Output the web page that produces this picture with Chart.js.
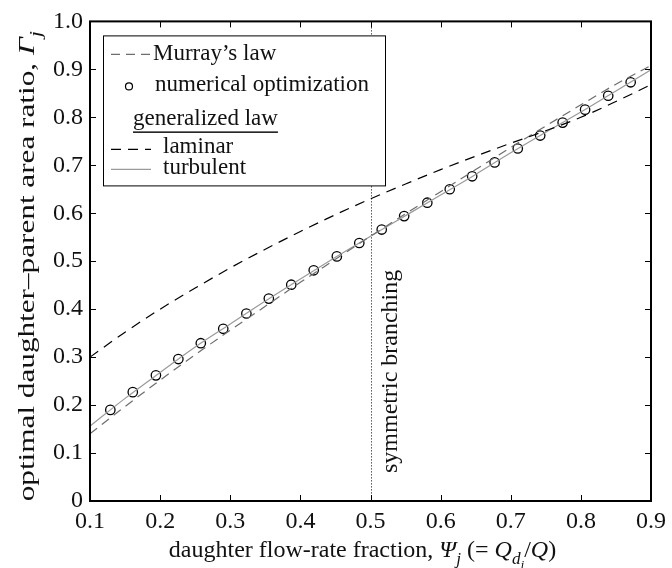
<!DOCTYPE html>
<html>
<head>
<meta charset="utf-8">
<script src="https://cdn.jsdelivr.net/npm/chart.js@4"></script>
<style>
html, body { margin: 0; padding: 0; background: #fff; }
</style>
</head>
<body>
<canvas id="chart" width="672" height="568"></canvas>
<script>
// flow-rate fraction grid for the three curves
const psi = [0.10, 0.15, 0.20, 0.25, 0.30, 0.35, 0.40, 0.45, 0.50,
             0.55, 0.60, 0.65, 0.70, 0.75, 0.80, 0.85, 0.90];
const murray = [0.140, 0.197, 0.252, 0.305, 0.356, 0.406, 0.456, 0.504, 0.552,
                0.599, 0.645, 0.691, 0.737, 0.782, 0.826, 0.869, 0.908];
const laminar = [0.300, 0.352, 0.400, 0.444, 0.486, 0.525, 0.562, 0.597, 0.630,
                 0.661, 0.691, 0.719, 0.746, 0.772, 0.800, 0.833, 0.868];
const turbulent = [0.156, 0.214, 0.268, 0.321, 0.369, 0.417, 0.463, 0.508, 0.552,
                   0.595, 0.638, 0.681, 0.726, 0.769, 0.811, 0.855, 0.899];
// numerical optimization points
const optX = [0.129, 0.161, 0.194, 0.226, 0.258, 0.290, 0.323, 0.355, 0.387, 0.419, 0.452, 0.484,
              0.516, 0.548, 0.581, 0.613, 0.645, 0.677, 0.710, 0.742, 0.774, 0.806, 0.839, 0.871];
const optY = [0.190, 0.227, 0.262, 0.296, 0.329, 0.359, 0.391, 0.422, 0.451, 0.481, 0.510, 0.538,
              0.566, 0.594, 0.622, 0.650, 0.677, 0.706, 0.735, 0.762, 0.789, 0.816, 0.845, 0.873];
const symX = 0.5;
const xTicks = [0.1, 0.2, 0.3, 0.4, 0.5, 0.6, 0.7, 0.8, 0.9];
const yTicks = [0, 0.1, 0.2, 0.3, 0.4, 0.5, 0.6, 0.7, 0.8, 0.9, 1.0];

const FONT = '"Liberation Serif", "DejaVu Serif", serif';

function pts(xs, ys) {
  return xs.map((v, i) => ({ x: v, y: ys[i] }));
}

// text made of runs: {t, it, sub}
function runFont(r, size) {
  const s = r.sub === 1 ? size * 0.72 : r.sub === 2 ? size * 0.55 : size;
  return (r.it ? 'italic ' : '') + s + 'px ' + FONT;
}
function runsWidth(ctx, runs, size) {
  let w = 0;
  runs.forEach(r => { ctx.font = runFont(r, size); w += ctx.measureText(r.t).width; });
  return w;
}
function drawRuns(ctx, runs, x, y, size) {
  let cx = x;
  runs.forEach(r => {
    ctx.font = runFont(r, size);
    const dy = r.sub === 1 ? size * 0.3 : r.sub === 2 ? size * 0.5 : 0;
    ctx.fillText(r.t, cx, y + dy);
    cx += ctx.measureText(r.t).width;
  });
}

const yTitle = [
  { t: 'optimal daughter\u2013parent area ratio, ' },
  { t: '\u0393', it: true },
  { t: 'j', it: true, sub: 1 }
];
const xTitle = [
  { t: 'daughter flow-rate fraction, ' },
  { t: '\u03A8', it: true },
  { t: 'j', it: true, sub: 1 },
  { t: ' (= ' },
  { t: 'Q', it: true },
  { t: 'd', it: true, sub: 1 },
  { t: 'j', it: true, sub: 2 },
  { t: '/' },
  { t: 'Q', it: true },
  { t: ')' }
];

const decor = {
  id: 'decor',
  beforeDatasetsDraw(chart) {
    const { ctx, chartArea: a, scales: { x } } = chart;
    const px = Math.round(x.getPixelForValue(symX)) + 0.5;
    ctx.save();
    ctx.strokeStyle = '#000';
    ctx.lineWidth = 1;
    ctx.setLineDash([1, 2]);
    ctx.beginPath();
    ctx.moveTo(px, a.top);
    ctx.lineTo(px, a.bottom);
    ctx.stroke();
    ctx.restore();
  },
  afterDraw(chart) {
    const { ctx, chartArea: a, scales: { x, y } } = chart;
    ctx.save();
    // frame and inward ticks on all sides
    ctx.strokeStyle = '#000';
    ctx.lineWidth = 1;
    ctx.beginPath();
    xTicks.forEach(v => {
      const p = Math.round(x.getPixelForValue(v)) + 0.5;
      ctx.moveTo(p, a.bottom); ctx.lineTo(p, a.bottom - 6);
      ctx.moveTo(p, a.top); ctx.lineTo(p, a.top + 6);
    });
    yTicks.forEach(v => {
      const p = Math.round(y.getPixelForValue(v)) + 0.5;
      ctx.moveTo(a.left, p); ctx.lineTo(a.left + 6, p);
      ctx.moveTo(a.right, p); ctx.lineTo(a.right - 6, p);
    });
    ctx.stroke();
    ctx.lineWidth = 2;
    ctx.strokeRect(a.left, a.top, a.right - a.left, a.bottom - a.top);

    // symmetric branching label
    ctx.fillStyle = '#111';
    ctx.save();
    ctx.translate(x.getPixelForValue(symX) + 26, a.bottom - 28);
    ctx.rotate(-Math.PI / 2);
    ctx.font = '24px ' + FONT;
    ctx.textAlign = 'left';
    ctx.textBaseline = 'alphabetic';
    ctx.fillText('symmetric branching', 0, 0);
    ctx.restore();

    // legend
    const lx = a.left + 13, ly = a.top + 14, lw = 282, lh = 150;
    ctx.fillStyle = '#fff';
    ctx.fillRect(lx, ly, lw, lh);
    ctx.lineWidth = 1;
    ctx.strokeStyle = '#000';
    ctx.strokeRect(lx + 0.5, ly + 0.5, lw, lh);
    ctx.fillStyle = '#111';
    ctx.font = '23px ' + FONT;
    ctx.textBaseline = 'middle';
    const sx0 = lx + 8, sx1 = lx + 48;
    const ds = chart.data.datasets;
    const sample = (d, yy) => {
      ctx.save();
      ctx.strokeStyle = d.borderColor;
      ctx.lineWidth = d.borderWidth;
      ctx.setLineDash(d.borderDash || []);
      ctx.beginPath();
      ctx.moveTo(sx0, yy); ctx.lineTo(sx1, yy);
      ctx.stroke();
      ctx.restore();
    };
    sample(ds[1], ly + 19);
    ctx.fillText('Murray\u2019s law', lx + 50, ly + 19);
    ctx.save();
    ctx.strokeStyle = '#000';
    ctx.lineWidth = 1.2;
    ctx.beginPath();
    ctx.arc(lx + 26, ly + 51, 3.5, 0, Math.PI * 2);
    ctx.stroke();
    ctx.restore();
    ctx.fillText('numerical optimization', lx + 52, ly + 50);
    ctx.fillText('generalized law', lx + 30, ly + 84);
    const gw = ctx.measureText('generalized law').width;
    ctx.fillRect(lx + 30, ly + 96, gw, 1.5);
    sample(ds[0], ly + 114);
    ctx.fillText('laminar', lx + 60, ly + 112);
    sample(ds[2], ly + 134);
    ctx.fillText('turbulent', lx + 60, ly + 133);

    // axis titles
    ctx.textBaseline = 'alphabetic';
    ctx.textAlign = 'left';
    const ts = 24;
    const xw = runsWidth(ctx, xTitle, ts);
    drawRuns(ctx, xTitle, (a.left + a.right) / 2 - xw / 2 - 8, 557, ts);
    ctx.save();
    const yw = runsWidth(ctx, yTitle, ts);
    ctx.translate(34, (a.top + a.bottom) / 2 + 5);
    ctx.rotate(-Math.PI / 2);
    ctx.scale(1.3, 1);
    drawRuns(ctx, yTitle, -yw / 2, 0, ts);
    ctx.restore();
    ctx.restore();
  }
};

new Chart(document.getElementById('chart'), {
  type: 'line',
  data: {
    datasets: [
      {
        label: 'laminar',
        data: pts(psi, laminar),
        borderColor: '#000',
        borderWidth: 1.2,
        borderDash: [10, 7],
        pointRadius: 0,
        cubicInterpolationMode: 'monotone'
      },
      {
        label: 'Murray\u2019s law',
        data: pts(psi, murray),
        borderColor: '#6e6e6e',
        borderWidth: 1.2,
        borderDash: [9, 6],
        pointRadius: 0,
        cubicInterpolationMode: 'monotone'
      },
      {
        label: 'turbulent',
        data: pts(psi, turbulent),
        borderColor: '#9a9a9a',
        borderWidth: 1.2,
        pointRadius: 0,
        cubicInterpolationMode: 'monotone'
      },
      {
        label: 'numerical optimization',
        data: pts(optX, optY),
        showLine: false,
        pointStyle: 'circle',
        pointRadius: 4.7,
        pointBorderWidth: 1.3,
        pointBorderColor: '#000',
        pointBackgroundColor: 'rgba(0,0,0,0)'
      }
    ]
  },
  options: {
    responsive: false,
    animation: false,
    layout: { padding: { left: 0, right: 11, top: 19, bottom: 0 } },
    plugins: {
      legend: { display: false },
      tooltip: { enabled: false }
    },
    scales: {
      x: {
        type: 'linear',
        min: 0.1,
        max: 0.9,
        afterBuildTicks: s => { s.ticks = xTicks.map(v => ({ value: v })); },
        afterFit: s => { s.height = 67; },
        grid: { display: false, drawTicks: false },
        border: { display: false },
        ticks: {
          padding: 6,
          color: '#111',
          font: { family: FONT, size: 24 },
          maxRotation: 0,
          callback: v => v.toFixed(1)
        }
      },
      y: {
        min: 0,
        max: 1,
        afterBuildTicks: s => { s.ticks = yTicks.map(v => ({ value: v })); },
        afterFit: s => { s.width = 90; },
        grid: { display: false, drawTicks: false },
        border: { display: false },
        ticks: {
          padding: 7,
          color: '#111',
          font: { family: FONT, size: 24 },
          callback: v => v === 0 ? '0' : v.toFixed(1)
        }
      }
    }
  },
  plugins: [decor]
});
</script>
</body>
</html>
